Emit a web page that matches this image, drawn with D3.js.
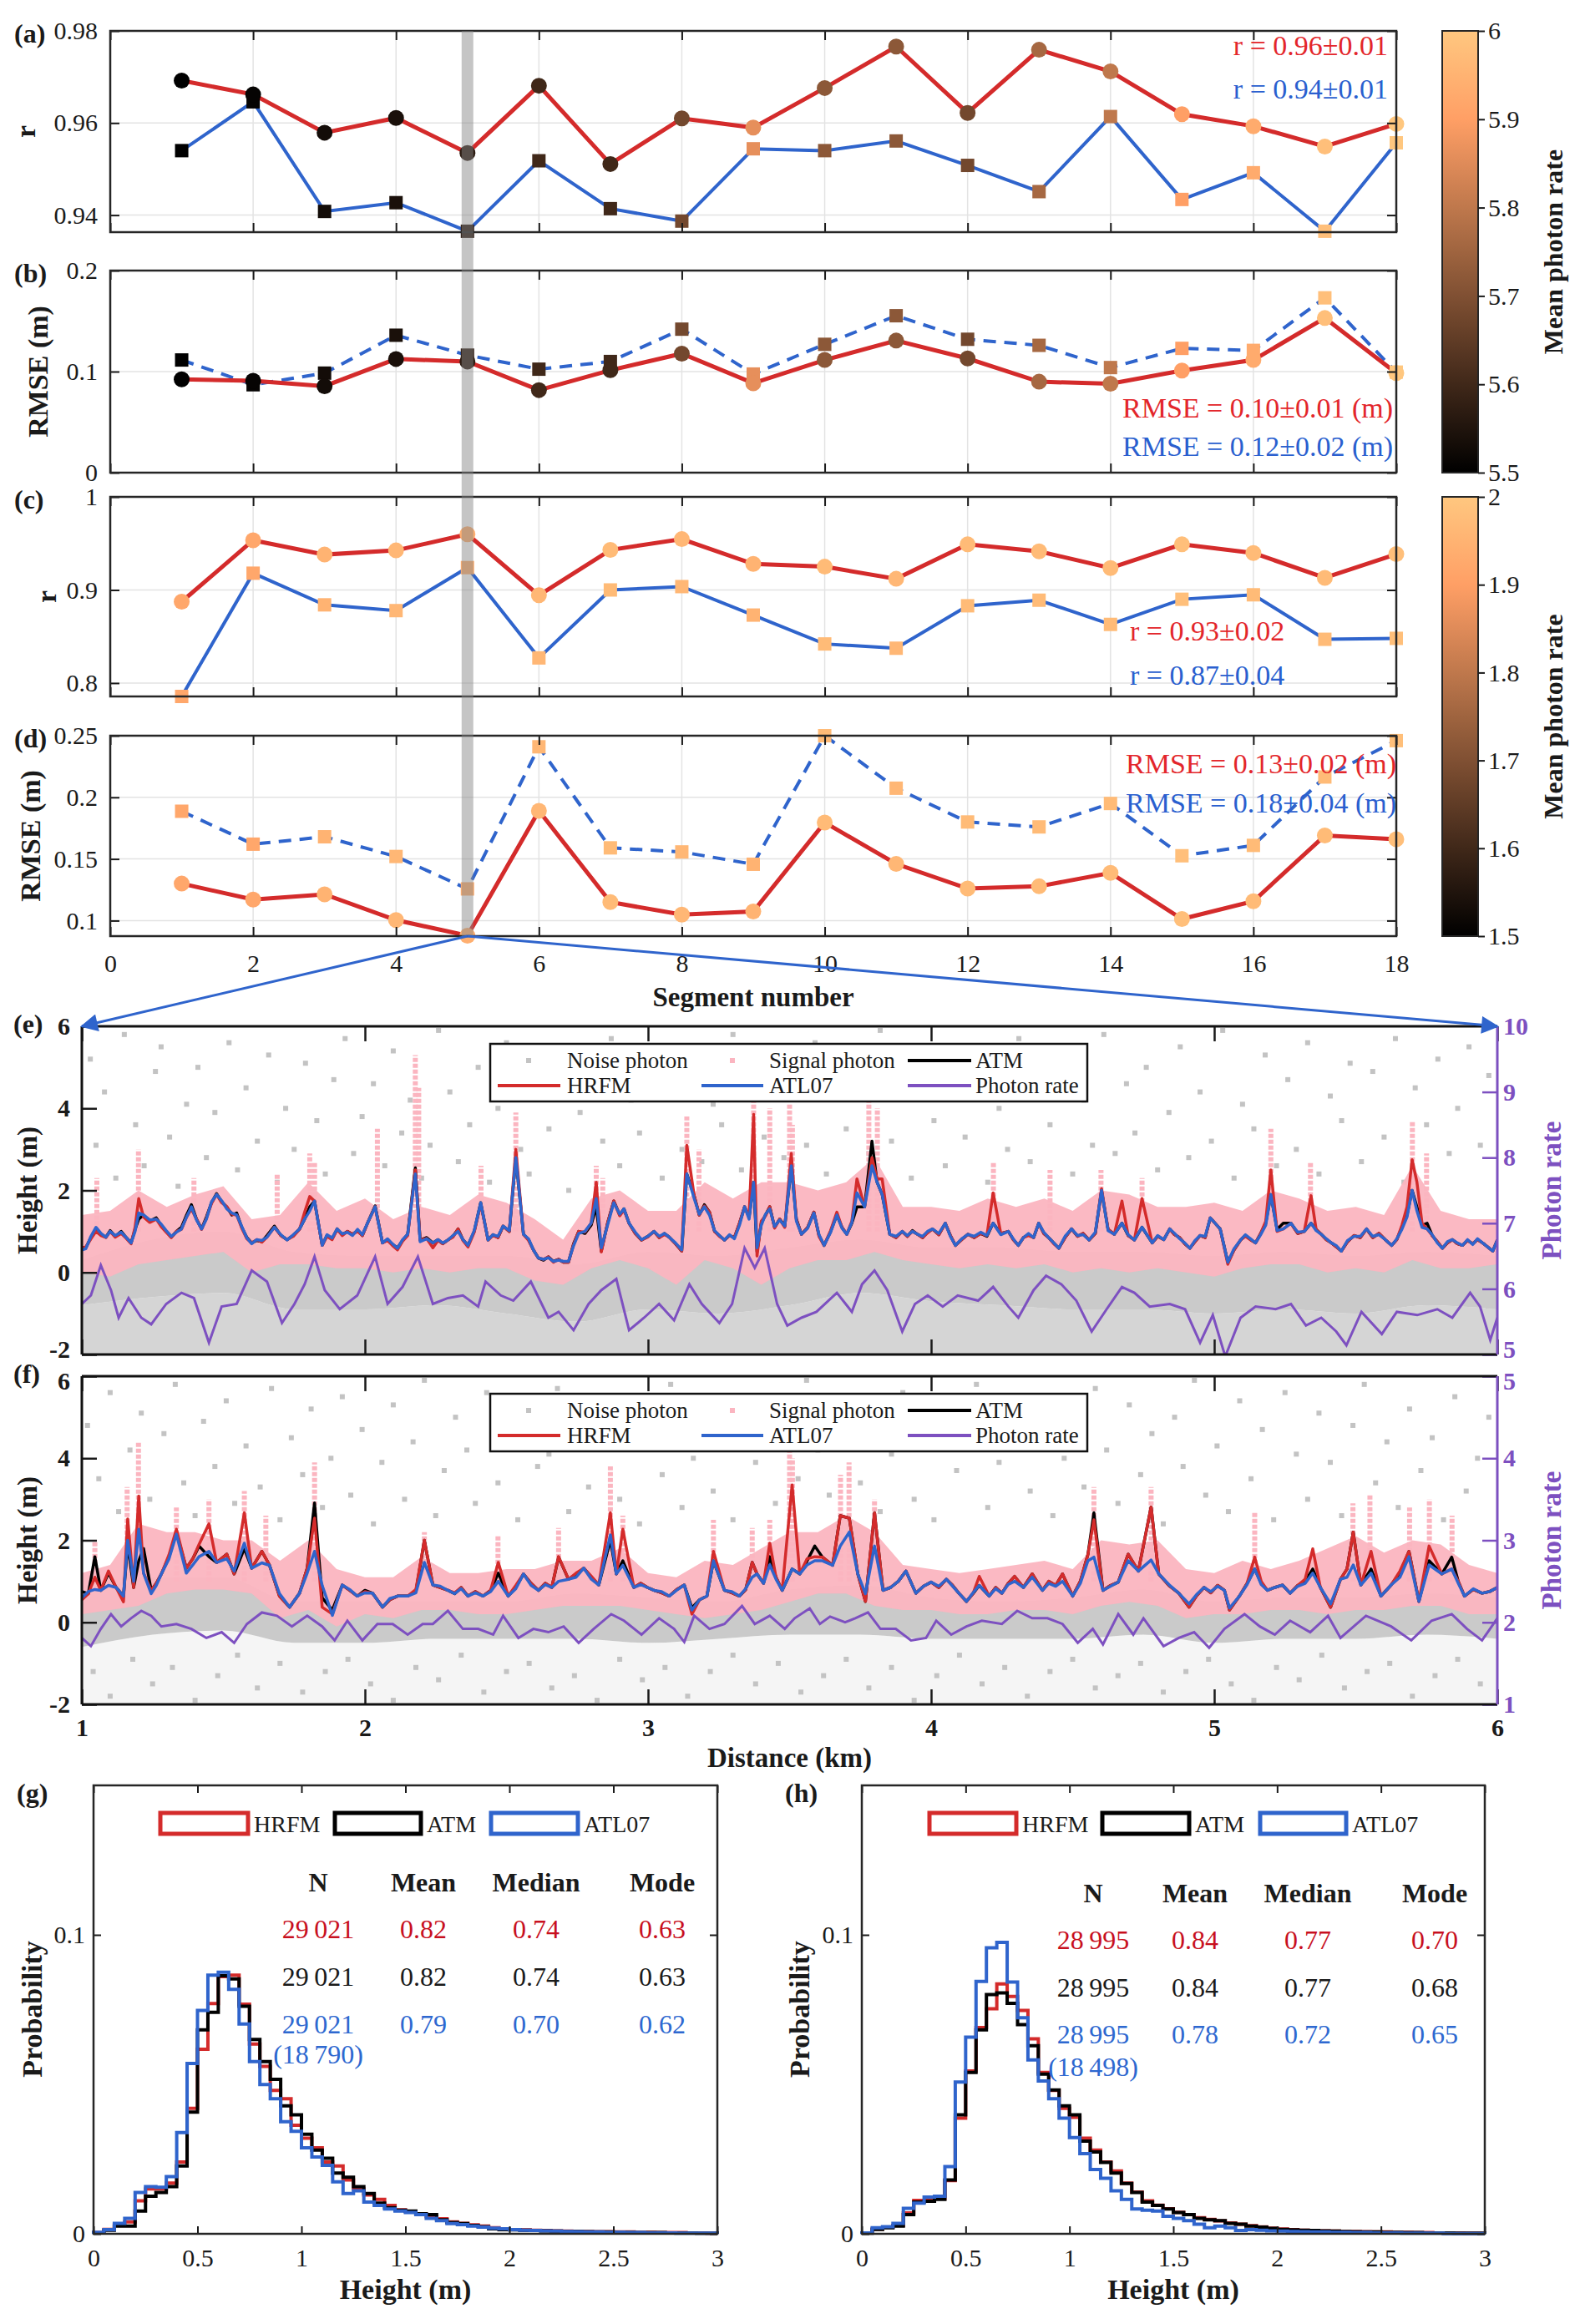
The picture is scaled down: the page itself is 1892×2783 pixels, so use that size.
<!DOCTYPE html>
<html>
<head>
<meta charset="utf-8">
<script src="https://cdn.jsdelivr.net/npm/d3@7"></script>
<style>
html,body{margin:0;padding:0;background:#fff;}
svg{display:block;}
</style>
</head>
<body>
<svg id="chart" width="1892" height="2783" xmlns="http://www.w3.org/2000/svg"></svg>
<script>
// ======================= DATA =======================
// Panels (a)-(d): per-segment statistics
const segments = [1,2,3,4,5,6,7,8,9,10,11,12,13,14,15,16,17,18];
const segTicks = [0,2,4,6,8,10,12,14,16,18];
const rHRFM_a = [0.9692,0.9662,0.9579,0.9611,0.9535,0.9681,0.9511,0.9610,0.9590,0.9676,0.9766,0.9622,0.9759,0.9712,0.9619,0.9593,0.9549,0.9598];
const rATL_a  = [0.9540,0.9646,0.9408,0.9427,0.9365,0.9518,0.9414,0.9387,0.9544,0.9540,0.9561,0.9508,0.9451,0.9614,0.9434,0.9492,0.9365,0.9557];
const rmseHRFM_b = [0.0923,0.0909,0.0856,0.1125,0.1100,0.0817,0.1014,0.1178,0.0885,0.1115,0.1307,0.1130,0.0900,0.0880,0.1010,0.1115,0.1530,0.0985];
const rmseATL_b  = [0.1115,0.0870,0.0985,0.1360,0.1163,0.1024,0.1100,0.1420,0.0976,0.1270,0.1553,0.1320,0.1260,0.1040,0.1230,0.1210,0.1730,0.0995];
const rHRFM_c = [0.8874,0.9534,0.9380,0.9425,0.9598,0.8943,0.9430,0.9546,0.9280,0.9250,0.9120,0.9490,0.9414,0.9236,0.9490,0.9397,0.9130,0.9385];
const rATL_c  = [0.7856,0.9180,0.8840,0.8778,0.9240,0.8270,0.9000,0.9036,0.8730,0.8420,0.8374,0.8830,0.8890,0.8630,0.8900,0.8948,0.8470,0.8480];
const rmseHRFM_d = [0.1300,0.1170,0.1213,0.1004,0.0878,0.1890,0.1150,0.1048,0.1074,0.1796,0.1460,0.1260,0.1278,0.1387,0.1013,0.1157,0.1690,0.1660];
const rmseATL_d  = [0.1887,0.1620,0.1680,0.1520,0.1257,0.2410,0.1590,0.1557,0.1457,0.2500,0.2074,0.1800,0.1760,0.1950,0.1526,0.1610,0.2165,0.2460];
const meanRateAB = [5.50,5.51,5.53,5.54,5.57,5.60,5.60,5.68,5.86,5.72,5.72,5.68,5.76,5.80,5.90,5.93,5.98,6.00];
const meanRateCD = [1.92,1.92,1.95,1.96,1.94,1.96,1.97,1.96,1.95,1.97,1.96,1.97,1.97,1.97,1.98,1.97,1.97,1.98];
const ticksA = [0.94,0.96,0.98], ticksB = [0,0.1,0.2], ticksC = [0.8,0.9,1], ticksD = [0.1,0.15,0.2,0.25];
const cbTicksAB = [5.5,5.6,5.7,5.8,5.9,6], cbTicksCD = [1.5,1.6,1.7,1.8,1.9,2];
const selectedSegment = 5;

// Panels (e)/(f): distance axis and profiles
const kmTicks = [1,2,3,4,5,6];
const hTicks = [-2,0,2,4,6];
const rateTicksE = [5,6,7,8,9,10];
const rateTicksF = [1,2,3,4,5];

const distE = [1.000,1.014,1.032,1.050,1.068,1.085,1.100,1.118,1.139,1.157,
 1.174,1.188,1.201,1.218,1.240,1.263,1.280,1.298,1.316,1.334,
 1.352,1.370,1.387,1.405,1.423,1.440,1.458,1.476,1.494,1.512,
 1.530,1.547,1.565,1.583,1.600,1.618,1.636,1.654,1.680,1.703,
 1.725,1.747,1.769,1.787,1.805,1.822,1.849,1.866,1.884,1.902,
 1.920,1.938,1.956,1.974,1.991,2.009,2.036,2.062,2.080,2.097,
 2.115,2.133,2.151,2.178,2.195,2.218,2.240,2.258,2.275,2.293,
 2.311,2.329,2.346,2.364,2.386,2.409,2.435,2.452,2.470,2.488,
 2.510,2.533,2.560,2.578,2.595,2.613,2.631,2.648,2.666,2.684,
 2.701,2.719,2.737,2.755,2.777,2.799,2.817,2.835,2.857,2.879,
 2.900,2.915,2.933,2.955,2.977,2.999,3.021,3.040,3.058,3.075,
 3.097,3.119,3.137,3.163,3.181,3.199,3.217,3.235,3.252,3.270,
 3.288,3.305,3.323,3.341,3.357,3.373,3.385,3.400,3.415,3.430,
 3.447,3.465,3.483,3.506,3.524,3.542,3.564,3.586,3.604,3.622,
 3.645,3.667,3.685,3.702,3.720,3.738,3.765,3.791,3.809,3.827,
 3.854,3.876,3.898,3.916,3.934,3.952,3.970,3.987,4.005,4.027,
 4.050,4.068,4.086,4.108,4.130,4.152,4.175,4.197,4.219,4.246,
 4.273,4.290,4.308,4.326,4.344,4.362,4.380,4.398,4.415,4.433,
 4.451,4.473,4.496,4.517,4.537,4.558,4.580,4.602,4.625,4.647,
 4.674,4.696,4.718,4.745,4.781,4.800,4.822,4.843,4.860,4.878,
 4.896,4.914,4.932,4.950,4.968,4.986,5.021,5.048,5.070,5.093,
 5.110,5.128,5.146,5.164,5.182,5.200,5.222,5.244,5.271,5.295,
 5.318,5.342,5.360,5.378,5.396,5.414,5.432,5.449,5.471,5.494,
 5.516,5.538,5.560,5.582,5.604,5.627,5.645,5.663,5.681,5.699,
 5.716,5.734,5.752,5.770,5.788,5.806,5.824,5.841,5.859,5.877,
 5.895,5.913,5.930,5.948,5.984,6.000];
const atmE = [.60,.60,.85,1.05,.92,.86,1.02,.88,1.00,.85,
 .72,1.05,1.30,1.40,1.25,1.33,1.15,1.00,.86,1.00,
 1.10,1.40,1.65,1.30,1.06,1.35,1.70,1.92,1.72,1.60,
 1.40,1.45,1.10,.85,.72,.78,.75,.90,1.13,.90,
 .80,.90,1.06,1.30,1.60,1.74,.66,.90,.82,1.06,
 .92,1.00,.93,1.02,.90,1.20,1.62,.72,.80,.68,
 .60,.78,.93,2.55,.79,.85,.72,.80,.70,.79,
 .88,1.06,.80,.66,1.00,1.70,.79,.92,.85,1.13,
 1.00,2.80,.93,.80,.55,.35,.30,.38,.27,.32,
 .25,.25,.70,1.00,.95,1.15,1.60,.52,1.20,1.74,
 1.40,1.55,1.20,.95,.79,.88,1.00,.85,.95,.86,
 .70,.52,2.40,1.87,1.40,1.65,1.47,1.00,.90,.79,
 .90,.85,1.20,1.60,1.35,2.20,.50,1.20,1.40,1.60,
 1.10,1.30,1.13,2.60,1.30,.93,1.10,1.47,.90,.66,
 1.00,1.40,1.10,.93,1.20,1.60,1.60,3.20,2.20,1.90,
 .93,.85,1.00,.88,1.02,.93,.85,.98,1.06,.92,
 1.20,.90,.66,.80,.93,.85,.95,.88,1.20,.95,
 1.00,.80,.66,.85,.92,.85,1.20,.95,.85,.72,
 .59,.85,1.06,.88,.95,.79,.95,2.00,1.05,.93,
 1.20,.90,.79,1.10,.72,.88,.80,1.06,.92,.85,
 .70,.59,.75,.90,.85,1.33,1.06,.25,.55,.79,
 .90,.80,.72,.95,1.20,1.90,1.05,1.20,1.20,.95,
 1.00,1.20,1.05,.93,.80,.72,.62,.52,.75,.90,
 .85,1.06,.85,.95,.80,.66,.80,1.10,1.40,2.00,
 1.60,1.15,1.20,.90,.75,.59,.72,.80,.70,.66,
 .78,.70,.80,.72,.52,.79];
const hrfmE = [.60,.62,.82,1.00,.90,.85,1.00,.86,.95,.83,
 .70,1.10,1.80,1.35,1.22,1.30,1.12,.98,.85,1.00,
 1.05,1.35,1.55,1.30,1.05,1.32,1.68,1.90,1.70,1.60,
 1.42,1.40,1.08,.82,.72,.80,.74,.86,1.10,.90,
 .80,.88,1.05,1.47,1.85,1.74,.66,.88,.80,1.05,
 .90,1.00,.93,1.00,.90,1.20,1.60,.72,.78,.66,
 .55,.76,.90,2.50,.79,.83,.60,.78,.70,.79,
 .86,1.06,.78,.62,.98,1.67,.79,.90,.85,1.13,
 1.00,3.00,.93,.78,.55,.35,.32,.38,.25,.32,
 .25,.25,.68,1.00,.98,1.20,2.20,.50,1.20,1.74,
 1.38,1.52,1.20,.95,.79,.86,1.00,.85,.92,.86,
 .70,.52,3.10,1.87,1.40,1.62,1.47,1.00,.88,.79,
 .90,.85,1.20,1.60,1.38,3.85,.40,1.25,1.38,1.60,
 1.08,1.30,1.10,2.90,1.28,.93,1.10,1.47,.88,.66,
 1.02,1.47,1.10,.93,1.25,2.28,1.60,2.80,2.28,2.28,
 .93,.85,1.00,.88,1.00,.93,.85,.96,1.06,.92,
 1.20,.90,.66,.80,.93,.85,.95,.90,1.94,.95,
 1.00,.80,.66,.85,.90,.85,1.20,.95,.85,.70,
 .59,.85,1.06,.88,.95,.79,.95,2.04,1.05,.93,
 1.74,.90,.79,1.80,.72,.88,.80,1.06,.92,.85,
 .70,.59,.75,.90,.85,1.33,1.06,.20,.55,.79,
 .88,.80,.72,.95,1.25,2.50,1.00,1.06,1.20,.95,
 1.00,1.87,1.05,.93,.80,.72,.62,.52,.75,.90,
 .85,1.06,.85,.95,.80,.66,.80,1.15,1.60,2.75,
 2.20,1.20,1.06,.90,.75,.59,.72,.80,.70,.66,
 .78,.70,.80,.72,.52,.79];
const atlE = [.55,.58,.88,1.10,.95,.86,1.00,.90,.98,.85,
 .72,1.00,1.45,1.40,1.28,1.30,1.18,1.02,.88,.98,
 1.06,1.35,1.60,1.28,1.06,1.30,1.72,1.90,1.75,1.55,
 1.45,1.40,1.12,.84,.70,.80,.78,.86,1.10,.92,
 .79,.92,1.06,1.30,1.50,1.74,.66,.92,.84,1.06,
 .94,.98,.90,1.05,.92,1.20,1.60,.72,.82,.70,
 .59,.80,.93,2.40,.75,.82,.72,.80,.72,.79,
 .90,1.00,.80,.66,1.02,1.70,.79,.92,.88,1.13,
 1.02,2.80,.93,.82,.55,.35,.32,.36,.27,.30,
 .27,.27,.65,.95,1.00,1.20,1.80,.60,1.15,1.70,
 1.42,1.55,1.20,.98,.80,.88,1.00,.88,.95,.86,
 .72,.55,2.40,1.80,1.42,1.60,1.40,1.02,.90,.79,
 .92,.82,1.15,1.60,1.30,2.20,.60,1.15,1.42,1.55,
 1.12,1.28,1.13,2.60,1.25,.93,1.08,1.45,.92,.66,
 .98,1.40,1.08,.93,1.22,1.94,1.60,2.60,2.20,1.90,
 .93,.88,1.00,.90,1.00,.93,.88,1.00,1.06,.95,
 1.20,.88,.66,.82,.93,.88,.98,.90,1.20,.92,
 1.00,.82,.66,.85,.95,.85,1.20,.98,.85,.72,
 .59,.88,1.06,.90,.92,.79,.98,2.00,1.02,.93,
 1.20,.92,.79,1.10,.72,.90,.80,1.06,.95,.82,
 .72,.59,.78,.90,.88,1.33,1.06,.25,.58,.79,
 .92,.82,.72,.92,1.15,1.90,1.02,1.06,1.20,.98,
 1.00,1.20,1.02,.93,.82,.72,.65,.52,.78,.88,
 .88,1.06,.88,.92,.80,.66,.82,1.05,1.35,2.00,
 1.50,1.10,1.06,.92,.72,.59,.75,.80,.72,.66,
 .80,.68,.82,.72,.52,.79];
const rateDistE = [1.000,1.032,1.067,1.103,1.130,1.165,1.210,1.245,1.298,1.352,
 1.396,1.449,1.494,1.547,1.600,1.654,1.707,1.751,1.787,1.822,
 1.858,1.911,1.973,2.036,2.080,2.133,2.187,2.240,2.293,2.346,
 2.400,2.426,2.480,2.524,2.586,2.648,2.684,2.737,2.790,2.835,
 2.888,2.933,2.986,3.039,3.092,3.146,3.190,3.252,3.297,3.341,
 3.377,3.412,3.456,3.492,3.542,3.595,3.667,3.720,3.756,3.800,
 3.845,3.898,3.943,3.988,4.041,4.094,4.166,4.219,4.273,4.308,
 4.362,4.406,4.460,4.513,4.567,4.620,4.674,4.718,4.772,4.843,
 4.897,4.950,4.995,5.039,5.093,5.146,5.217,5.271,5.324,5.378,
 5.431,5.467,5.520,5.592,5.645,5.717,5.788,5.841,5.904,5.939,
 5.975,6.000];
const rateE = [5.77,5.90,6.36,5.98,5.56,5.86,5.56,5.46,5.77,5.94,
 5.86,5.18,5.73,5.77,6.28,6.11,5.48,5.77,6.07,6.49,
 5.98,5.69,5.90,6.49,5.77,6.03,6.49,5.77,5.86,5.90,
 5.73,6.11,5.90,5.82,6.11,5.56,5.65,5.37,5.77,5.98,
 6.15,5.37,5.56,5.77,5.52,6.07,5.77,5.48,5.77,6.62,
 6.32,6.62,5.77,5.44,5.56,5.65,5.94,5.65,6.07,6.28,
 5.98,5.35,5.77,5.90,5.73,5.90,5.82,6.03,5.73,5.56,
 5.98,6.20,6.07,5.82,5.35,5.69,6.03,5.94,5.73,5.77,
 5.69,5.18,5.60,4.97,5.56,5.73,5.69,5.77,5.44,5.56,
 5.35,5.14,5.65,5.31,5.65,5.60,5.69,5.56,5.94,5.73,
 5.22,5.56];

const distF = [1.000,1.023,1.046,1.067,1.094,1.121,1.147,1.162,1.183,1.201,
 1.218,1.245,1.263,1.281,1.308,1.334,1.369,1.392,1.414,1.449,
 1.476,1.512,1.538,1.574,1.600,1.636,1.663,1.698,1.734,1.769,
 1.796,1.822,1.849,1.885,1.920,1.946,1.973,2.000,2.027,2.062,
 2.088,2.115,2.151,2.180,2.210,2.240,2.266,2.293,2.317,2.340,
 2.364,2.390,2.417,2.444,2.471,2.506,2.533,2.560,2.587,2.613,
 2.637,2.660,2.684,2.719,2.746,2.773,2.800,2.826,2.867,2.888,
 2.911,2.950,2.974,2.998,3.021,3.048,3.075,3.101,3.128,3.155,
 3.182,3.208,3.231,3.270,3.296,3.323,3.345,3.368,3.385,3.408,
 3.430,3.452,3.474,3.509,3.536,3.562,3.589,3.616,3.652,3.679,
 3.711,3.741,3.768,3.800,3.830,3.857,3.884,3.911,3.946,3.973,
 4.000,4.027,4.054,4.076,4.098,4.125,4.148,4.170,4.205,4.228,
 4.250,4.272,4.295,4.326,4.357,4.393,4.416,4.440,4.464,4.500,
 4.527,4.554,4.575,4.607,4.634,4.661,4.696,4.732,4.777,4.804,
 4.840,4.875,4.911,4.938,4.964,4.988,5.012,5.036,5.054,5.089,
 5.116,5.143,5.166,5.188,5.214,5.241,5.268,5.295,5.321,5.348,
 5.375,5.411,5.446,5.469,5.491,5.518,5.554,5.589,5.625,5.656,
 5.688,5.723,5.759,5.804,5.839,5.862,5.884,5.915,5.946,5.973,
 6.000];
const atmF = [.75,.70,1.60,.78,1.20,.85,.64,1.90,.85,1.50,
 1.80,.78,.95,1.18,1.60,2.20,1.32,1.55,1.86,1.60,
 1.46,1.66,1.18,1.80,1.32,1.73,1.39,.64,.37,.71,
 1.32,2.91,.60,.30,.91,.78,.64,.78,.71,.37,
 .55,.64,.64,.75,2.00,.91,.85,.78,.70,.85,
 .64,.75,.64,.78,1.20,.64,.85,1.18,.95,.78,
 .95,.85,1.59,1.05,1.15,1.32,1.10,.91,2.00,1.18,
 1.50,.85,.95,.85,.78,.72,.64,.80,.91,.35,
 .55,.64,1.50,.78,.72,.64,.80,1.46,1.18,.95,
 1.60,1.10,.78,1.30,1.18,1.50,1.86,1.59,1.39,2.60,
 2.54,1.18,.51,2.67,.78,.85,1.00,1.25,.71,.88,
 .98,.85,1.05,.90,.71,.51,.70,.90,.64,.85,
 .71,.95,1.12,.85,1.18,.78,1.00,.90,1.18,.64,
 1.00,1.66,2.67,.78,.90,.98,1.66,1.25,2.81,1.18,
 .90,.71,.37,.65,.85,.72,.90,.78,.30,.64,
 .95,1.30,.95,.78,.85,.91,.71,.90,1.00,1.30,
 .85,.37,1.05,1.30,2.20,.91,1.30,.64,.91,1.20,
 1.73,.51,1.50,1.18,1.59,1.00,.64,.80,.71,.75,
 .85];
const hrfmF = [.55,.70,1.10,.78,1.25,.85,.50,2.52,.85,3.08,
 1.20,.78,.95,1.18,1.65,2.27,1.32,1.55,1.90,2.40,
 1.46,1.66,1.18,2.67,1.32,1.73,1.39,.64,.37,.71,
 1.32,2.54,.37,.20,.91,.78,.64,.75,.71,.37,
 .55,.64,.64,.80,2.00,.91,.85,.78,.72,.85,
 .64,.75,.64,.78,1.46,.64,.90,1.18,.95,.78,
 .95,.85,1.60,1.05,1.20,1.32,1.12,.91,2.67,1.18,
 2.27,.85,.95,.85,.78,.72,.64,.80,.91,.20,
 .55,.64,1.73,.78,.72,.64,.80,1.46,1.18,.95,
 1.93,1.10,.78,3.35,1.18,1.55,1.60,1.59,1.39,2.60,
 2.54,1.18,.51,2.67,.78,.85,1.00,1.25,.71,.88,
 .98,.85,1.05,.90,.71,.51,.70,1.12,.64,.85,
 .71,.95,1.12,.85,1.18,.78,1.00,.90,1.18,.64,
 1.00,1.66,2.50,.78,.90,.98,1.66,1.25,2.81,1.18,
 .90,.71,.37,.65,.85,.72,.90,.78,.30,.64,
 .95,1.59,1.00,.78,.85,.91,.71,.90,1.05,1.79,
 .85,.37,1.05,1.30,2.20,.91,1.73,.64,.91,1.25,
 1.73,.51,1.86,1.18,1.30,1.00,.64,.80,.71,.75,
 .85];
const atlF = [.60,.75,.80,.78,.90,.85,.64,2.00,1.00,2.27,
 1.20,.70,.90,1.18,1.55,2.15,1.20,1.40,1.60,1.73,
 1.46,1.55,1.25,1.93,1.32,1.45,1.39,.70,.37,.71,
 1.20,1.73,.90,.17,.91,.80,.64,.72,.71,.37,
 .58,.64,.64,.72,1.46,.91,.88,.78,.70,.82,
 .64,.72,.64,.75,1.00,.64,.82,1.18,.90,.78,
 .92,.85,1.00,1.05,1.10,1.32,1.05,.91,2.13,1.18,
 1.39,.85,.92,.85,.78,.75,.64,.78,.91,.30,
 .55,.64,1.50,.78,.75,.64,.82,1.10,1.18,.95,
 1.40,1.05,.78,1.30,1.18,1.40,1.50,1.50,1.39,1.86,
 2.20,1.18,.70,1.86,.78,.85,1.00,1.25,.71,.88,
 .98,.88,1.05,.88,.71,.51,.72,.90,.64,.82,
 .71,.92,1.00,.85,1.10,.78,.95,.88,1.00,.64,
 .95,1.50,1.59,.78,.88,.98,1.50,1.25,1.52,1.18,
 .92,.71,.45,.68,.85,.75,.88,.78,.35,.64,
 .92,1.30,.92,.78,.85,.91,.71,.88,.95,1.20,
 .85,.45,1.05,1.10,1.40,.91,1.20,.64,.91,1.10,
 1.60,.51,1.40,1.18,1.30,.95,.64,.82,.71,.75,
 .85];
const rateDistF = [1.000,1.032,1.067,1.103,1.139,1.174,1.210,1.245,1.281,1.334,
 1.387,1.440,1.494,1.538,1.583,1.636,1.689,1.742,1.796,1.849,
 1.893,1.938,1.991,2.044,2.098,2.151,2.204,2.240,2.293,2.346,
 2.400,2.453,2.488,2.542,2.595,2.648,2.702,2.755,2.808,2.870,
 2.915,2.977,3.039,3.092,3.128,3.163,3.217,3.270,3.332,3.377,
 3.430,3.483,3.518,3.571,3.607,3.643,3.696,3.732,3.777,3.821,
 3.875,3.929,3.982,4.018,4.071,4.125,4.179,4.250,4.304,4.357,
 4.411,4.464,4.518,4.571,4.607,4.661,4.714,4.750,4.821,4.875,
 4.929,4.982,5.036,5.107,5.161,5.214,5.268,5.339,5.402,5.446,
 5.536,5.625,5.696,5.768,5.839,5.893,5.946,6.000];
const rateF = [1.81,1.71,1.92,2.10,1.95,2.05,2.14,2.08,1.95,1.98,
 1.92,1.81,1.88,1.75,1.98,2.12,2.08,1.95,2.08,1.95,
 1.78,2.02,1.78,1.98,1.98,1.85,1.98,1.98,2.14,1.92,
 1.92,1.85,2.08,1.81,1.92,1.88,1.95,1.75,1.92,2.10,
 2.02,1.85,2.05,1.92,1.76,2.08,1.92,1.98,2.20,1.98,
 2.08,1.92,2.05,2.17,1.98,2.07,2.00,2.05,2.12,1.92,
 1.92,1.78,1.81,2.02,1.85,1.95,2.02,1.98,2.14,2.05,
 2.05,1.98,1.75,1.92,1.73,2.10,1.85,2.05,1.71,1.81,
 1.88,1.69,1.92,2.10,1.95,1.85,2.02,1.88,2.08,1.81,
 2.08,1.95,1.78,2.02,2.10,1.92,1.78,2.05];

// Signal-photon envelope (every 0.1 km) and dense noise-photon band (every 0.25 km)
const bandDist = [1.0,1.1,1.2,1.3,1.4,1.5,1.6,1.7,1.8,1.9,2.0,2.1,2.2,2.3,2.4,2.5,2.6,2.7,2.8,2.9,3.0,3.1,3.2,3.3,3.4,3.5,3.6,3.7,3.8,3.9,4.0,4.1,4.2,4.3,4.4,4.5,4.6,4.7,4.8,4.9,5.0,5.1,5.2,5.3,5.4,5.5,5.6,5.7,5.8,5.9,6.0];
const sigHiE = [1.4,1.5,2.0,1.6,1.9,2.1,1.3,1.4,2.2,1.5, 1.8,1.3,1.6,1.4,1.9,1.7,1.3,0.8,1.8,2.0, 1.5,1.5,2.2,1.8,2.2,2.2,2.0,2.2,2.8,1.6, 1.6,1.5,1.8,1.6,1.8,1.5,2.0,1.9,1.6,1.6, 1.7,1.5,2.0,1.8,1.5,1.6,1.4,2.6,1.5,1.3, 1.3];
const sigLoE = [0.0,-0.1,0.2,0.3,0.4,0.5,0.0,0.2,0.2,0.1, 0.1,0.0,0.1,0.0,0.1,0.1,-0.2,-0.3,0.1,0.3, 0.1,-0.3,0.3,0.1,-0.3,0.1,0.3,0.3,0.5,0.3, 0.2,0.1,0.2,0.1,0.2,0.0,0.1,0.0,0.1,0.0, -0.1,0.1,0.2,0.2,0.0,0.1,0.0,0.3,0.1,0.1, 0.2];
const sigHiF = [1.2,1.4,2.4,2.2,2.2,2.0,2.0,1.5,2.0,1.3, 1.1,1.1,1.6,1.2,1.2,1.3,1.3,1.5,1.5,1.8, 1.2,1.1,1.5,1.4,1.8,2.2,2.2,2.6,2.2,1.4, 1.3,1.2,1.3,1.4,1.5,1.3,2.0,1.9,2.0,1.3, 1.2,1.5,1.3,1.5,1.8,2.1,1.7,2.0,1.9,1.4, 1.2];
const sigLoF = [0.2,0.3,0.4,0.7,0.8,0.8,0.7,0.1,0.3,-0.1, 0.2,0.1,0.3,0.3,0.2,0.2,0.3,0.4,0.4,0.4, 0.3,0.2,0.1,0.2,0.3,0.5,0.7,0.7,0.4,0.3, 0.3,0.2,0.2,0.3,0.3,0.2,0.4,0.5,0.4,0.1, 0.2,0.2,0.3,0.3,0.2,0.3,0.3,0.4,0.4,0.2, 0.2];
const grayDist = [1.0,1.25,1.5,1.75,2.0,2.25,2.5,2.75,3.0,3.25,3.5,3.75,4.0,4.25,4.5,4.75,5.0,5.25,5.5,5.75,6.0];
const grayHiE  = [0.3,0.8,1.0,0.5,0.4,0.4,0.4,0.2,0.5,0.4,0.6,0.8,0.6,0.6,0.5,0.5,0.4,0.5,0.4,0.5,0.4];
const grayMidE = [-0.8,-0.6,-0.5,-0.9,-0.9,-0.8,-1.0,-1.2,-0.9,-1.0,-0.8,-0.5,-0.7,-0.8,-0.9,-0.9,-1.0,-0.9,-1.0,-0.8,-0.9];
const grayHiF  = [0.6,1.1,1.1,0.5,0.5,0.5,0.5,0.7,0.6,0.5,0.8,0.9,0.6,0.5,0.6,0.8,0.5,0.6,0.6,0.7,0.6];
const grayMidF = [-0.6,-0.3,-0.2,-0.5,-0.5,-0.4,-0.4,-0.4,-0.5,-0.4,-0.3,-0.3,-0.4,-0.4,-0.4,-0.3,-0.5,-0.4,-0.4,-0.3,-0.4];

// Tall streaks of signal photons [km, top height]
const sigSpikesE = [[1.053,2.3],[1.2,3.0],[1.396,2.3],[1.69,2.4],[1.805,2.9],[1.822,2.7],[2.044,3.5],[2.178,5.3],[2.19,4.5],[2.41,2.6],[2.533,3.9],[2.817,2.6],[2.84,2.3],[3.137,3.8],[3.18,3.0],[3.373,4.2],[3.43,4.0],[3.50,4.1],[3.51,3.6],[3.78,4.4],[3.81,4.0],[4.22,2.7],[4.42,2.5],[4.6,2.5],[4.745,2.3],[5.2,3.5],[5.34,2.7],[5.7,3.7],[5.75,2.9]];
const sigSpikesF = [[1.046,2.0],[1.16,3.3],[1.2,4.4],[1.334,2.8],[1.449,3.0],[1.574,3.2],[1.65,2.6],[1.822,3.9],[2.21,2.2],[2.47,2.1],[2.684,2.3],[2.867,3.8],[2.911,2.6],[3.231,2.5],[3.368,2.3],[3.43,2.5],[3.5,4.3],[3.51,4.0],[3.68,3.6],[3.71,3.9],[3.8,3.0],[4.575,3.3],[4.777,3.3],[5.143,2.7],[5.49,2.9],[5.55,3.1],[5.69,2.8],[5.76,3.0],[5.84,2.6]];

// Scattered noise photons [km, height]
const noiseE = [[1.03,5.2],[1.05,3.1],[1.08,4.4],[1.12,2.3],[1.15,5.8],[1.19,3.6],[1.22,2.6],[1.26,4.9],[1.28,5.5],[1.31,3.3],[1.34,2.1],[1.37,4.1],[1.41,5.0],[1.44,2.8],[1.47,3.9],[1.52,5.6],[1.55,2.5],[1.58,4.5],[1.62,3.2],[1.66,5.3],[1.69,2.2],[1.72,4.0],[1.75,3.0],[1.79,5.1],[1.83,3.7],[1.86,2.4],[1.89,4.7],[1.93,5.7],[1.96,2.9],[1.99,3.8],[2.03,4.6],[2.07,2.6],[2.1,5.4],[2.13,3.4],[2.16,4.2],[2.2,2.3],[2.23,3.1],[2.26,5.9],[2.3,4.4],[2.33,2.7],[2.37,3.6],[2.4,5.0],[2.44,2.2],[2.47,4.0],[2.5,5.6],[2.55,3.0],[2.58,2.4],[2.62,4.8],[2.65,3.5],[2.69,5.2],[2.72,2.0],[2.76,3.9],[2.8,4.5],[2.84,3.2],[2.87,5.7],[2.9,2.6],[2.94,4.2],[2.97,3.4],[3.01,5.0],[3.05,2.3],[3.08,4.6],[3.12,3.0],[3.15,5.5],[3.19,2.7],[3.23,4.1],[3.26,3.6],[3.3,5.8],[3.33,2.5],[3.37,4.9],[3.41,3.3],[3.45,5.3],[3.48,2.8],[3.52,4.4],[3.56,3.1],[3.59,5.6],[3.63,2.4],[3.67,4.7],[3.7,3.5],[3.74,5.1],[3.78,2.9],[3.82,5.9],[3.86,3.2],[3.9,4.3],[3.93,2.3],[3.97,5.0],[4.01,3.7],[4.05,2.6],[4.08,4.8],[4.12,3.3],[4.16,5.4],[4.2,2.2],[4.24,4.0],[4.27,3.0],[4.31,5.7],[4.35,2.7],[4.39,4.5],[4.42,3.6],[4.46,5.2],[4.5,2.4],[4.54,4.2],[4.57,3.1],[4.61,5.8],[4.65,2.9],[4.69,4.6],[4.72,3.4],[4.76,5.0],[4.8,2.5],[4.84,3.9],[4.88,5.5],[4.91,2.8],[4.95,4.4],[4.99,3.2],[5.03,5.9],[5.07,2.3],[5.1,4.1],[5.14,3.5],[5.18,5.3],[5.22,2.6],[5.26,4.7],[5.29,3.0],[5.33,5.6],[5.37,2.4],[5.41,4.3],[5.45,3.7],[5.48,5.1],[5.52,2.7],[5.56,4.9],[5.6,3.3],[5.64,5.7],[5.67,2.2],[5.71,4.5],[5.75,3.6],[5.79,5.2],[5.83,2.9],[5.86,4.0],[5.9,5.5],[5.94,3.1],[5.97,4.8]];
const noiseF = [[1.02,4.8],[1.06,3.5],[1.1,5.6],[1.13,2.7],[1.17,4.2],[1.21,5.1],[1.24,3.0],[1.29,4.6],[1.33,5.8],[1.36,3.4],[1.4,2.6],[1.43,4.9],[1.47,3.8],[1.51,5.4],[1.54,2.9],[1.58,4.3],[1.63,3.3],[1.67,5.7],[1.7,2.5],[1.74,4.5],[1.78,3.6],[1.81,5.2],[1.85,2.8],[1.88,4.0],[1.92,5.5],[1.95,3.1],[1.99,4.7],[2.03,2.4],[2.06,3.9],[2.1,5.3],[2.14,3.0],[2.17,4.4],[2.21,5.9],[2.25,2.6],[2.28,3.7],[2.32,5.0],[2.36,4.2],[2.39,2.9],[2.43,5.6],[2.47,3.4],[2.5,4.6],[2.54,2.5],[2.57,5.2],[2.61,3.8],[2.65,4.1],[2.68,5.7],[2.72,2.7],[2.76,4.8],[2.79,3.3],[2.83,5.4],[2.86,4.3],[2.9,3.0],[2.94,5.0],[2.97,2.4],[3.01,4.5],[3.05,3.6],[3.08,5.8],[3.12,2.8],[3.16,4.0],[3.19,5.3],[3.23,3.2],[3.27,4.7],[3.3,2.5],[3.34,5.5],[3.38,3.9],[3.41,4.4],[3.45,2.9],[3.49,5.1],[3.53,3.5],[3.56,5.9],[3.6,4.2],[3.64,3.1],[3.67,5.4],[3.71,4.6],[3.75,3.4],[3.79,5.0],[3.82,2.7],[3.86,4.1],[3.9,5.6],[3.94,3.0],[3.97,4.8],[4.01,2.5],[4.05,5.2],[4.09,3.7],[4.12,4.4],[4.16,5.8],[4.2,2.8],[4.24,3.9],[4.28,5.1],[4.31,4.5],[4.35,3.2],[4.39,5.5],[4.43,2.6],[4.47,4.0],[4.5,4.9],[4.54,3.3],[4.58,5.7],[4.62,4.2],[4.66,2.9],[4.7,5.3],[4.74,3.6],[4.78,4.6],[4.82,2.4],[4.86,5.0],[4.89,3.8],[4.93,5.9],[4.97,3.1],[5.01,4.3],[5.05,2.7],[5.09,5.4],[5.13,3.5],[5.17,4.7],[5.21,2.5],[5.25,5.6],[5.29,4.1],[5.33,3.0],[5.37,5.1],[5.41,3.9],[5.45,2.6],[5.49,4.8],[5.53,5.8],[5.57,3.4],[5.61,4.4],[5.65,2.8],[5.69,5.2],[5.73,3.7],[5.77,4.5],[5.81,2.5],[5.85,5.5],[5.89,3.2],[5.93,4.0],[5.97,5.0],
 [1.04,-1.2],[1.1,-1.8],[1.18,-0.9],[1.25,-1.5],[1.32,-1.1],[1.4,-1.9],[1.48,-1.3],[1.55,-0.8],[1.62,-1.6],[1.7,-1.0],[1.78,-1.7],[1.86,-1.2],[1.94,-0.9],[2.02,-1.5],[2.1,-1.9],[2.18,-1.1],[2.26,-1.4],[2.34,-0.8],[2.42,-1.7],[2.5,-1.2],[2.58,-1.0],[2.66,-1.6],[2.74,-1.3],[2.82,-1.9],[2.9,-0.9],[2.98,-1.4],[3.06,-1.1],[3.14,-1.8],[3.22,-1.2],[3.3,-0.8],[3.38,-1.5],[3.46,-1.0],[3.54,-1.7],[3.62,-1.3],[3.7,-0.9],[3.78,-1.6],[3.86,-1.1],[3.94,-1.9],[4.02,-1.3],[4.1,-0.8],[4.18,-1.5],[4.26,-1.1],[4.34,-1.8],[4.42,-1.2],[4.5,-0.9],[4.58,-1.6],[4.66,-1.3],[4.74,-1.0],[4.82,-1.7],[4.9,-1.2],[4.98,-0.9],[5.06,-1.5],[5.14,-1.9],[5.22,-1.1],[5.3,-1.4],[5.38,-0.8],[5.46,-1.6],[5.54,-1.2],[5.62,-1.0],[5.7,-1.8],[5.78,-1.3],[5.86,-0.9],[5.94,-1.5]];

// Panels (g)/(h): height histograms (probability per 0.05 m bin, 0-3 m)
const binWidth = 0.05;
const histTicksX = [0,0.5,1,1.5,2,2.5,3];
const histTicksY = [0,0.1];
const gHRFM = [0.0004,0.0015,0.0030,0.0040,0.0110,0.0150,0.0150,0.0170,0.0240,0.0420,0.0617,0.0770,0.0860,0.0865,0.0768,0.0635,0.0560,0.0480,0.0452,0.0363,0.0320,0.0288,0.0240,0.0227,0.0180,0.0150,0.0130,0.0115,0.0095,0.0080,0.0074,0.0066,0.0058,0.0050,0.0040,0.0035,0.0030,0.0026,0.0020,0.0016,0.0014,0.0013,0.0012,0.0011,0.0010,0.0009,0.0008,0.0008,0.0007,0.0007,0.0006,0.0006,0.0005,0.0005,0.0004,0.0004,0.0004,0.0003,0.0003,0.0002];
const gATM  = [0.0003,0.0012,0.0026,0.0026,0.0076,0.0126,0.0138,0.0158,0.0227,0.0407,0.0682,0.0741,0.0863,0.0853,0.0761,0.0650,0.0576,0.0517,0.0428,0.0398,0.0333,0.0280,0.0253,0.0203,0.0189,0.0158,0.0135,0.0103,0.0087,0.0079,0.0076,0.0067,0.0064,0.0047,0.0038,0.0034,0.0028,0.0024,0.0017,0.0014,0.0013,0.0012,0.0011,0.0010,0.0009,0.0008,0.0008,0.0007,0.0006,0.0006,0.0005,0.0005,0.0004,0.0004,0.0004,0.0003,0.0003,0.0003,0.0002,0.0002];
const gATL  = [0.0005,0.0014,0.0035,0.0052,0.0138,0.0158,0.0156,0.0191,0.0339,0.0570,0.0747,0.0865,0.0875,0.0818,0.0702,0.0576,0.0499,0.0452,0.0375,0.0343,0.0288,0.0257,0.0229,0.0174,0.0135,0.0144,0.0106,0.0095,0.0083,0.0076,0.0071,0.0064,0.0052,0.0044,0.0034,0.0031,0.0026,0.0022,0.0019,0.0017,0.0014,0.0012,0.0011,0.0010,0.0009,0.0008,0.0007,0.0006,0.0006,0.0005,0.0005,0.0004,0.0004,0.0003,0.0003,0.0003,0.0002,0.0002,0.0002,0.0002];
const hHRFM = [0.0003,0.0016,0.0022,0.0028,0.0070,0.0112,0.0112,0.0118,0.0178,0.0387,0.0545,0.0690,0.0753,0.0836,0.0794,0.0747,0.0652,0.0540,0.0480,0.0420,0.0390,0.0320,0.0280,0.0240,0.0210,0.0170,0.0140,0.0110,0.0096,0.0084,0.0072,0.0064,0.0054,0.0048,0.0043,0.0036,0.0032,0.0027,0.0023,0.0019,0.0016,0.0014,0.0012,0.0011,0.0010,0.0009,0.0008,0.0008,0.0007,0.0006,0.0006,0.0005,0.0005,0.0004,0.0004,0.0003,0.0003,0.0003,0.0002,0.0002];
const hATM  = [0.0002,0.0015,0.0020,0.0026,0.0064,0.0106,0.0109,0.0115,0.0180,0.0398,0.0540,0.0682,0.0800,0.0806,0.0771,0.0700,0.0629,0.0534,0.0481,0.0428,0.0398,0.0310,0.0274,0.0239,0.0203,0.0168,0.0138,0.0106,0.0095,0.0083,0.0071,0.0064,0.0052,0.0047,0.0044,0.0035,0.0032,0.0026,0.0022,0.0018,0.0015,0.0013,0.0012,0.0011,0.0010,0.0009,0.0008,0.0007,0.0006,0.0006,0.0005,0.0005,0.0004,0.0004,0.0003,0.0003,0.0003,0.0002,0.0002,0.0002];
const hATL  = [0.0003,0.0020,0.0024,0.0035,0.0085,0.0103,0.0123,0.0126,0.0225,0.0508,0.0658,0.0844,0.0957,0.0975,0.0842,0.0723,0.0582,0.0511,0.0452,0.0387,0.0322,0.0268,0.0215,0.0186,0.0144,0.0115,0.0083,0.0079,0.0076,0.0059,0.0052,0.0044,0.0032,0.0020,0.0026,0.0020,0.0011,0.0014,0.0012,0.0010,0.0009,0.0008,0.0007,0.0006,0.0006,0.0005,0.0005,0.0004,0.0004,0.0003,0.0003,0.0003,0.0002,0.0002,0.0002,0.0002,0.0001,0.0001,0.0001,0.0001];
const tableHeaders = ['N','Mean','Median','Mode'];
const statsG = [['29\u2009021','0.82','0.74','0.63'],['29\u2009021','0.82','0.74','0.63'],['29\u2009021','0.79','0.70','0.62']];
const statsH = [['28\u2009995','0.84','0.77','0.70'],['28\u2009995','0.84','0.77','0.68'],['28\u2009995','0.78','0.72','0.65']];
const atlCountG = '(18\u2009790)', atlCountH = '(18\u2009498)';

// ======================= STYLE =======================
const FONT = '"Liberation Serif","Times New Roman",Times,serif';
const INK = '#1a1a1a';
const RED = '#d42b2b', BLUE = '#2f64cc', PURPLE = '#7d50c0';
const RED_TXT = '#e3262b', BLUE_TXT = '#2a5fcf';
const TAB_RED = '#c8101e', TAB_BLUE = '#2e68d0';
const NOISE = '#c3c3c3', PINK = '#fbb5c0';

const svg = d3.select('#chart');
svg.append('rect').attr('width',1892).attr('height',2783).attr('fill','#fff');
const defs = svg.append('defs');

function copper(t){
  t = Math.max(0, Math.min(1, t));
  return d3.rgb(Math.min(1,1.25*t)*255, 0.7812*t*255, 0.4975*t*255).formatHex();
}
function txt(g, x, y, s, o={}){
  const t = g.append('text').attr('x',x).attr('y',y).text(s)
    .attr('font-family',FONT).attr('font-size',o.size||30)
    .attr('font-weight',o.weight||'normal').attr('fill',o.fill||INK)
    .attr('text-anchor',o.anchor||'start');
  if (o.baseline) t.attr('dominant-baseline',o.baseline);
  if (o.rotate) t.attr('transform',`rotate(${o.rotate},${x},${y})`);
  return t;
}
function styleAxis(g, gen, o){
  gen.tickSizeInner(o.len).tickSizeOuter(0).tickPadding(o.pad||8);
  if (o.fmt) gen.tickFormat(o.fmt);
  g.call(gen);
  g.select('.domain').remove();
  g.attr('font-family',FONT).attr('font-size',o.size||30).attr('font-weight',o.weight||'normal');
  g.selectAll('.tick line').attr('stroke',o.color||INK).attr('stroke-width',o.tw||2);
  g.selectAll('.tick text').attr('fill',o.color||INK);
  return g;
}
const noLab = () => '';
const numLab = d => String(d);

// ======================= PANELS (a)-(d) =======================
const X0 = 132, X1 = 1672;
const xSeg = d3.scaleLinear().domain([0,18]).range([X0,X1]);
const cmapAB = d3.scaleLinear().domain([5.5,6]).range([0,1]);
const cmapCD = d3.scaleLinear().domain([1.5,2]).range([0,1]);

const topPanels = [
  {id:'a', y0:37,  y1:278, dom:[0.9363,0.98], ticks:ticksA, red:rHRFM_a, blue:rATL_a, rate:meanRateAB, cmap:cmapAB, dashed:false, ylab:'r', ylx:30,
   notes:[{s:'r = 0.96\u00b10.01', x:1662, y:66, c:RED_TXT, a:'end'},{s:'r = 0.94\u00b10.01', x:1662, y:118, c:BLUE_TXT, a:'end'}]},
  {id:'b', y0:324, y1:566, dom:[0,0.2], ticks:ticksB, red:rmseHRFM_b, blue:rmseATL_b, rate:meanRateAB, cmap:cmapAB, dashed:true, ylab:'RMSE (m)', ylx:45,
   notes:[{s:'RMSE = 0.10\u00b10.01 (m)', x:1668, y:500, c:RED_TXT, a:'end'},{s:'RMSE = 0.12\u00b10.02 (m)', x:1668, y:546, c:BLUE_TXT, a:'end'}]},
  {id:'c', y0:595, y1:834, dom:[0.7856,1], ticks:ticksC, red:rHRFM_c, blue:rATL_c, rate:meanRateCD, cmap:cmapCD, dashed:false, ylab:'r', ylx:55,
   notes:[{s:'r = 0.93\u00b10.02', x:1353, y:767, c:RED_TXT, a:'start'},{s:'r = 0.87\u00b10.04', x:1353, y:820, c:BLUE_TXT, a:'start'}]},
  {id:'d', y0:881, y1:1121, dom:[0.0874,0.25], ticks:ticksD, red:rmseHRFM_d, blue:rmseATL_d, rate:meanRateCD, cmap:cmapCD, dashed:true, ylab:'RMSE (m)', ylx:36,
   notes:[{s:'RMSE = 0.13\u00b10.02 (m)', x:1672, y:926, c:RED_TXT, a:'end'},{s:'RMSE = 0.18\u00b10.04 (m)', x:1672, y:973, c:BLUE_TXT, a:'end'}]}
];

const gTop = svg.append('g');
topPanels.forEach(p => {
  const g = gTop.append('g');
  const y = d3.scaleLinear().domain(p.dom).range([p.y1,p.y0]);
  g.selectAll('.vg').data(segTicks.slice(1,-1)).enter().append('line')
    .attr('x1',d=>xSeg(d)).attr('x2',d=>xSeg(d)).attr('y1',p.y0).attr('y2',p.y1)
    .attr('stroke','#e3e3e3').attr('stroke-width',1.5);
  g.selectAll('.hg').data(p.ticks.filter(t=>y(t)>p.y0+2 && y(t)<p.y1-2)).enter().append('line')
    .attr('x1',X0).attr('x2',X1).attr('y1',d=>y(d)).attr('y2',d=>y(d))
    .attr('stroke','#e3e3e3').attr('stroke-width',1.5);
  const line = vals => d3.line().x((d,i)=>xSeg(segments[i])).y(d=>y(d))(vals);
  g.append('path').attr('d',line(p.blue)).attr('fill','none').attr('stroke',BLUE)
    .attr('stroke-width',4).attr('stroke-dasharray',p.dashed?'15,10':null);
  g.append('path').attr('d',line(p.red)).attr('fill','none').attr('stroke',RED).attr('stroke-width',5);
  g.selectAll('.sq').data(p.blue).enter().append('rect')
    .attr('x',(d,i)=>xSeg(segments[i])-8).attr('y',d=>y(d)-8).attr('width',16).attr('height',16)
    .attr('fill',(d,i)=>copper(p.cmap(p.rate[i])));
  g.selectAll('.ci').data(p.red).enter().append('ellipse')
    .attr('cx',(d,i)=>xSeg(segments[i])).attr('cy',d=>y(d)).attr('rx',9.5).attr('ry',9.5)
    .attr('fill',(d,i)=>copper(p.cmap(p.rate[i])));
  styleAxis(g.append('g').attr('transform',`translate(0,${p.y1})`), d3.axisBottom(xSeg).tickValues(segTicks),
    {len:-11, pad:22, fmt: p.id==='d'?numLab:noLab});
  styleAxis(g.append('g').attr('transform',`translate(0,${p.y0})`), d3.axisTop(xSeg).tickValues(segTicks), {len:-11, fmt:noLab});
  styleAxis(g.append('g').attr('transform',`translate(${X0},0)`), d3.axisLeft(y).tickValues(p.ticks), {len:-11, pad:15, fmt:numLab});
  styleAxis(g.append('g').attr('transform',`translate(${X1},0)`), d3.axisRight(y).tickValues(p.ticks), {len:-11, fmt:noLab});
  g.append('rect').attr('x',X0).attr('y',p.y0).attr('width',X1-X0).attr('height',p.y1-p.y0)
    .attr('fill','none').attr('stroke','#262626').attr('stroke-width',2.5);
  txt(g, 17, p.y0+14, `(${p.id})`, {size:32, weight:'bold'});
  txt(g, p.ylx, (p.y0+p.y1)/2, p.ylab, {size:34, weight:'bold', anchor:'middle', baseline:'central', rotate:-90});
  p.notes.forEach(n => txt(g, n.x, n.y, n.s, {size:34, fill:n.c, anchor:n.a}));
});
txt(gTop, (X0+X1)/2, 1205, 'Segment number', {size:33, weight:'bold', anchor:'middle'});

gTop.append('rect').attr('x',xSeg(selectedSegment)-7).attr('y',37).attr('width',14).attr('height',1121-37)
  .attr('fill','#858585').attr('opacity',0.48);

function colorbar(id, y0, y1, ticks, dom){
  const grad = defs.append('linearGradient').attr('id',id).attr('x1',0).attr('y1',1).attr('x2',0).attr('y2',0);
  d3.range(0,1.0001,0.05).forEach(t => grad.append('stop').attr('offset',t).attr('stop-color',copper(t)));
  const cx0 = 1727, cx1 = 1770;
  gTop.append('rect').attr('x',cx0).attr('y',y0).attr('width',cx1-cx0).attr('height',y1-y0).attr('fill',`url(#${id})`)
    .attr('stroke','#262626').attr('stroke-width',2);
  const s = d3.scaleLinear().domain(dom).range([y1,y0]);
  styleAxis(gTop.append('g').attr('transform',`translate(${cx1},0)`), d3.axisRight(s).tickValues(ticks), {len:8, pad:4, fmt:numLab});
  txt(gTop, 1860, (y0+y1)/2, 'Mean photon rate', {size:32, weight:'bold', anchor:'middle', baseline:'central', rotate:-90});
}
colorbar('cbAB', 37, 566, cbTicksAB, [5.5,6]);
colorbar('cbCD', 595, 1121, cbTicksCD, [1.5,2]);

// ======================= PANELS (e)/(f) =======================
const EX0 = 98, EX1 = 1793;
const xKm = d3.scaleLinear().domain([1,6]).range([EX0,EX1]);

defs.append('marker').attr('id','arr').attr('viewBox','0 0 10 10').attr('refX',9).attr('refY',5)
  .attr('markerWidth',8).attr('markerHeight',7).attr('markerUnits','strokeWidth').attr('orient','auto')
  .append('path').attr('d','M0,0L10,5L0,10z').attr('fill',BLUE);

function profilePanel(cfg){
  const g = svg.append('g');
  const y = d3.scaleLinear().domain([-2,6]).range([cfg.y1,cfg.y0]);
  const yr = d3.scaleLinear().domain(cfg.rateDom).range([cfg.y1,cfg.y0]);
  const clipId = 'clip'+cfg.id;
  defs.append('clipPath').attr('id',clipId).append('rect').attr('x',EX0).attr('y',cfg.y0).attr('width',EX1-EX0).attr('height',cfg.y1-cfg.y0);
  const gc = g.append('g').attr('clip-path',`url(#${clipId})`);
  const grayRows = grayDist.map((km,i)=>({km, hi:cfg.grayHi[i], mid:cfg.grayMid[i]}));
  gc.append('path').attr('d', d3.area().x(d=>xKm(d.km)).y0(y(-2)).y1(d=>y(d.mid)).curve(d3.curveMonotoneX)(grayRows))
    .attr('fill',NOISE).attr('opacity',cfg.lowOp);
  gc.append('path').attr('d', d3.area().x(d=>xKm(d.km)).y0(d=>y(d.mid)).y1(d=>y(d.hi)).curve(d3.curveMonotoneX)(grayRows))
    .attr('fill',NOISE).attr('opacity',0.88);
  gc.selectAll('.nz').data(cfg.noise).enter().append('rect')
    .attr('x',d=>xKm(d[0])-3).attr('y',d=>y(d[1])-3).attr('width',6).attr('height',6).attr('fill',NOISE);
  const sigRows = bandDist.map((km,i)=>({km, hi:cfg.sigHi[i], lo:cfg.sigLo[i]}));
  gc.append('path').attr('d', d3.area().x(d=>xKm(d.km)).y0(d=>y(d.lo)).y1(d=>y(d.hi))(sigRows))
    .attr('fill',PINK).attr('opacity',0.95);
  gc.selectAll('.sp').data(cfg.spikes).enter().append('line')
    .attr('x1',d=>xKm(d[0])).attr('x2',d=>xKm(d[0])).attr('y1',y(1.0)).attr('y2',d=>y(d[1]))
    .attr('stroke',PINK).attr('stroke-width',6).attr('stroke-dasharray','5,2');
  const prof = vals => d3.line().defined((d,i)=>cfg.dist[i]!==undefined).x((d,i)=>xKm(cfg.dist[i])).y(d=>y(d))(vals);
  gc.append('path').attr('d',prof(cfg.atm)).attr('fill','none').attr('stroke','#000').attr('stroke-width',3.5).attr('stroke-linejoin','round');
  gc.append('path').attr('d',prof(cfg.hrfm)).attr('fill','none').attr('stroke',RED).attr('stroke-width',3.5).attr('stroke-linejoin','round');
  gc.append('path').attr('d',prof(cfg.atl)).attr('fill','none').attr('stroke',BLUE).attr('stroke-width',3.5).attr('stroke-linejoin','round');
  gc.append('path').attr('d', d3.line().x((d,i)=>xKm(cfg.rateDist[i])).y(d=>yr(d))(cfg.rate))
    .attr('fill','none').attr('stroke',PURPLE).attr('stroke-width',3);
  styleAxis(g.append('g').attr('transform',`translate(0,${cfg.y1})`), d3.axisBottom(xKm).tickValues(kmTicks),
    {len:-18, pad:17, fmt: cfg.xlabels?numLab:noLab, weight:'bold', tw:2.5});
  styleAxis(g.append('g').attr('transform',`translate(0,${cfg.y0})`), d3.axisTop(xKm).tickValues(kmTicks), {len:-18, fmt:noLab, tw:2.5});
  const la = styleAxis(g.append('g').attr('transform',`translate(${EX0},0)`), d3.axisLeft(y).tickValues(hTicks), {len:-18, pad:14, fmt:numLab, weight:'bold', tw:2.5});
  const ra = styleAxis(g.append('g').attr('transform',`translate(${EX1},0)`), d3.axisRight(yr).tickValues(cfg.rateTicks),
    {len:-18, pad:7, fmt:numLab, weight:'bold', color:PURPLE, tw:2.5});
  // keep the end labels of the stacked panels from touching
  if (cfg.id === 'e') {
    la.selectAll('.tick text').filter(d=>d===-2).attr('dy','0.12em');
    ra.selectAll('.tick text').filter(d=>d===cfg.rateDom[0]).attr('dy','0.12em');
  } else {
    la.selectAll('.tick text').filter(d=>d===6).attr('dy','0.52em');
    ra.selectAll('.tick text').filter(d=>d===cfg.rateDom[1]).attr('dy','0.52em');
  }
  g.append('line').attr('x1',EX0).attr('x2',EX1).attr('y1',cfg.y0).attr('y2',cfg.y0).attr('stroke','#111').attr('stroke-width',3);
  g.append('line').attr('x1',EX0).attr('x2',EX1).attr('y1',cfg.y1).attr('y2',cfg.y1).attr('stroke','#111').attr('stroke-width',3);
  g.append('line').attr('x1',EX0).attr('x2',EX0).attr('y1',cfg.y0).attr('y2',cfg.y1).attr('stroke','#111').attr('stroke-width',3);
  g.append('line').attr('x1',EX1).attr('x2',EX1).attr('y1',cfg.y0).attr('y2',cfg.y1).attr('stroke',PURPLE).attr('stroke-width',3);
  txt(g, 16, cfg.y0+8, `(${cfg.id})`, {size:32, weight:'bold'});
  txt(g, 33, (cfg.y0+cfg.y1)/2, 'Height (m)', {size:33, weight:'bold', anchor:'middle', baseline:'central', rotate:-90});
  txt(g, 1858, (cfg.y0+cfg.y1)/2, 'Photon rate', {size:33, weight:'bold', anchor:'middle', baseline:'central', rotate:-90, fill:PURPLE});
  // legend
  const r1 = cfg.y0 + 41, r2 = r1 + 30;
  const lg = g.append('g');
  lg.append('rect').attr('x',587).attr('y',r1-20).attr('width',715).attr('height',69).attr('fill','#fff').attr('stroke','#111').attr('stroke-width',2.5);
  lg.append('rect').attr('x',630).attr('y',r1-3).attr('width',6).attr('height',6).attr('fill',NOISE);
  lg.append('rect').attr('x',874).attr('y',r1-3).attr('width',6).attr('height',6).attr('fill',PINK);
  [[1087,1163,r1,'#000'],[596,671,r2,RED],[840,914,r2,BLUE],[1087,1163,r2,PURPLE]].forEach(l =>
    lg.append('line').attr('x1',l[0]).attr('x2',l[1]).attr('y1',l[2]).attr('y2',l[2]).attr('stroke',l[3]).attr('stroke-width',4));
  [[679,r1,'Noise photon'],[921,r1,'Signal photon'],[1168,r1,'ATM'],[679,r2,'HRFM'],[921,r2,'ATL07'],[1168,r2,'Photon rate']].forEach(t =>
    txt(lg, t[0], t[1], t[2], {size:27, baseline:'central'}));
}

profilePanel({id:'e', y0:1229, y1:1622, rateDom:[5,10], rateTicks:rateTicksE, dist:distE, atm:atmE, hrfm:hrfmE, atl:atlE,
  rateDist:rateDistE, rate:rateE, sigHi:sigHiE, sigLo:sigLoE, grayHi:grayHiE, grayMid:grayMidE, lowOp:0.7,
  spikes:sigSpikesE, noise:noiseE, xlabels:false});
profilePanel({id:'f', y0:1648, y1:2041, rateDom:[1,5], rateTicks:rateTicksF, dist:distF, atm:atmF, hrfm:hrfmF, atl:atlF,
  rateDist:rateDistF, rate:rateF, sigHi:sigHiF, sigLo:sigLoF, grayHi:grayHiF, grayMid:grayMidF, lowOp:0.16,
  spikes:sigSpikesF, noise:noiseF, xlabels:true});
txt(svg, (EX0+EX1)/2, 2116, 'Distance (km)', {size:33, weight:'bold', anchor:'middle'});

[[EX0,1229],[EX1,1229]].forEach(pt => {
  svg.append('line').attr('x1',xSeg(selectedSegment)).attr('y1',1121).attr('x2',pt[0]).attr('y2',pt[1])
    .attr('stroke',BLUE).attr('stroke-width',3).attr('marker-end','url(#arr)');
});

// ======================= PANELS (g)/(h) =======================
function histPanel(cfg){
  const g = svg.append('g');
  const x = d3.scaleLinear().domain([0,3]).range([cfg.x0,cfg.x1]);
  const y = d3.scaleLinear().domain([0,0.15]).range([2675,2138]);
  const steps = vals => {
    const pts = [[0,0]];
    vals.forEach((v,i) => { pts.push([i*binWidth, v]); pts.push([(i+1)*binWidth, v]); });
    pts.push([vals.length*binWidth, 0]);
    return d3.line().x(d=>x(d[0])).y(d=>y(d[1]))(pts);
  };
  [[cfg.hrfm,RED],[cfg.atm,'#000'],[cfg.atl,BLUE]].forEach(s =>
    g.append('path').attr('d',steps(s[0])).attr('fill','none').attr('stroke',s[1]).attr('stroke-width',4).attr('stroke-linejoin','miter'));
  styleAxis(g.append('g').attr('transform','translate(0,2675)'), d3.axisBottom(x).tickValues(histTicksX), {len:-9, pad:18, fmt:numLab});
  styleAxis(g.append('g').attr('transform','translate(0,2138)'), d3.axisTop(x).tickValues(histTicksX), {len:-9, fmt:noLab});
  styleAxis(g.append('g').attr('transform',`translate(${cfg.x0},0)`), d3.axisLeft(y).tickValues(histTicksY), {len:-9, pad:10, fmt:numLab});
  styleAxis(g.append('g').attr('transform',`translate(${cfg.x1},0)`), d3.axisRight(y).tickValues(histTicksY), {len:-9, fmt:noLab});
  g.append('rect').attr('x',cfg.x0).attr('y',2138).attr('width',cfg.x1-cfg.x0).attr('height',2675-2138)
    .attr('fill','none').attr('stroke','#262626').attr('stroke-width',2.5);
  txt(g, cfg.x0-92, 2158, `(${cfg.id})`, {size:32, weight:'bold'});
  txt(g, (cfg.x0+cfg.x1)/2, 2753, 'Height (m)', {size:34, weight:'bold', anchor:'middle'});
  txt(g, cfg.ylx, 2406, 'Probability', {size:34, weight:'bold', anchor:'middle', baseline:'central', rotate:-90});
  cfg.leg.forEach(l => {
    g.append('rect').attr('x',l[0]).attr('y',2171).attr('width',l[1]-l[0]).attr('height',25).attr('fill','none').attr('stroke',l[2]).attr('stroke-width',5);
    txt(g, l[1]+7, 2184, l[3], {size:28, baseline:'central'});
  });
  tableHeaders.forEach((h,j) => txt(g, cfg.cols[j], cfg.hy, h, {size:32, weight:'bold', anchor:'middle'}));
  const rowCol = [TAB_RED, INK, TAB_BLUE];
  cfg.stats.forEach((row,i) => row.forEach((v,j) => txt(g, cfg.cols[j], cfg.ry[i], v, {size:32, anchor:'middle', fill:rowCol[i]})));
  txt(g, cfg.cols[0], cfg.ry[3], cfg.count, {size:32, anchor:'middle', fill:TAB_BLUE});
}
histPanel({id:'g', x0:112, x1:859, ylx:38, hrfm:gHRFM, atm:gATM, atl:gATL, stats:statsG, count:atlCountG,
  cols:[381,507,642,793], hy:2265, ry:[2321,2378,2435,2471],
  leg:[[192,297,RED,'HRFM'],[401,504,'#000','ATM'],[588,692,BLUE,'ATL07']]});
histPanel({id:'h', x0:1032, x1:1778, ylx:957, hrfm:hHRFM, atm:hATM, atl:hATL, stats:statsH, count:atlCountH,
  cols:[1309,1431,1566,1718], hy:2278, ry:[2334,2391,2447,2486],
  leg:[[1113,1217,RED,'HRFM'],[1320,1424,'#000','ATM'],[1509,1612,BLUE,'ATL07']]});
</script>
</body>
</html>
